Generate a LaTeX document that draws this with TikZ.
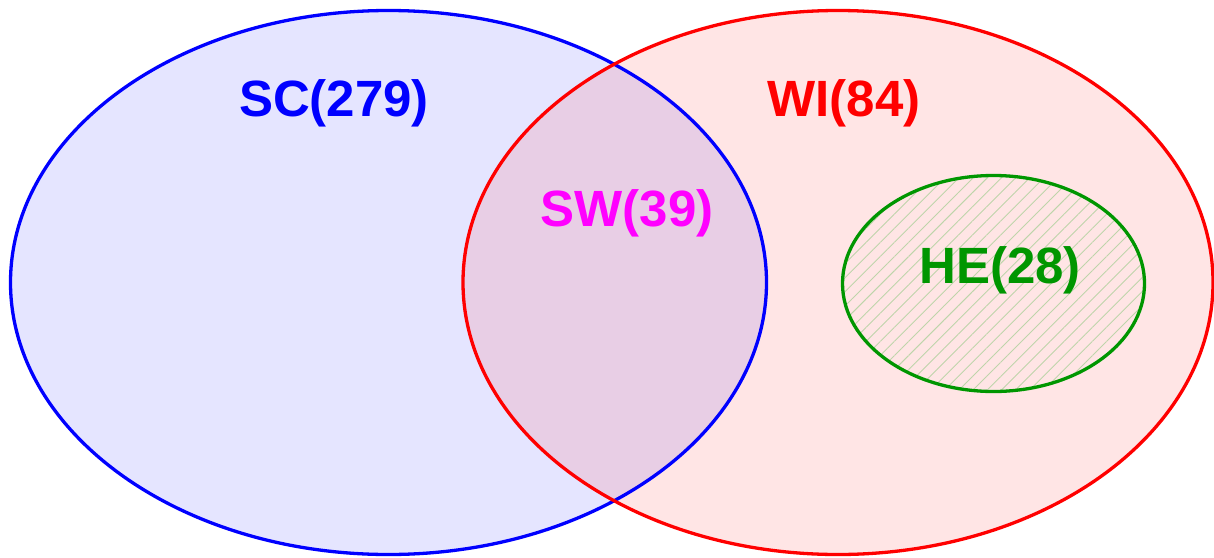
\documentclass[tikz,border=0pt]{standalone}
\usepackage{fontspec}
\setmainfont{Liberation Sans}
\usetikzlibrary{patterns.meta}
\definecolor{scblue}{RGB}{0,0,255}
\definecolor{wired}{RGB}{255,0,0}
\definecolor{hegreen}{RGB}{0,150,0}
\definecolor{swmag}{RGB}{255,0,255}
\definecolor{hatch}{RGB}{190,212,170}
\tikzset{
  setline/.style={line width=3.3pt},
  setlabel/.style={font=\bfseries\fontsize{51}{51}\selectfont, inner sep=0pt}
}
\begin{document}
\begin{tikzpicture}[x=1pt,y=-1pt]
\useasboundingbox (0,0) rectangle (1214,557);
% set SC
\fill[scblue, fill opacity=0.1] (388.5,282.5) ellipse [x radius=378, y radius=272];
% set WI
\fill[wired, fill opacity=0.1] (838,282.5) ellipse [x radius=375, y radius=272];
% subset HE, hatched
\fill[pattern={Lines[angle=45,distance=10pt,line width=0.9pt]}, pattern color=hatch]
  (993.5,283.5) ellipse [x radius=151, y radius=108];
\draw[setline, scblue] (388.5,282.5) ellipse [x radius=378, y radius=272];
\draw[setline, wired] (838,282.5) ellipse [x radius=375, y radius=272];
\draw[setline, hegreen] (993.5,283.5) ellipse [x radius=151, y radius=108];
% labels
\node[setlabel, text=scblue] (sc) at (334,103) {SC(279)};
\node[setlabel, text=wired] (wi) at (844,103) {WI(84)};
\node[setlabel, text=swmag] (sw) at (627,213) {SW(39)};
\node[setlabel, text=hegreen] (he) at (1000,270) {HE(28)};
\end{tikzpicture}
\end{document}
